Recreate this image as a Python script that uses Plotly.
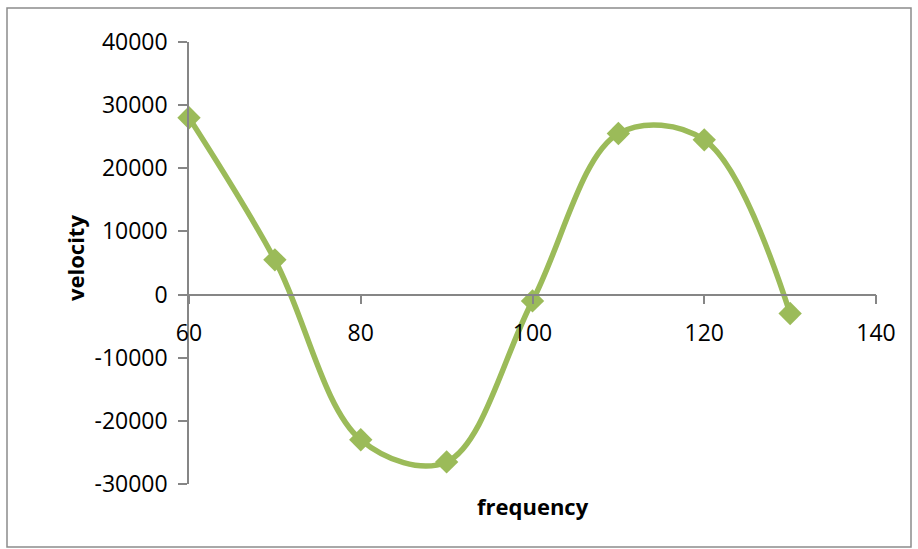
import plotly.graph_objects as go

frequency = [60, 70, 80, 90, 100, 110, 120, 130]
velocity = [28000, 5500, -23000, -26500, -1000, 25500, 24500, -3000]

x_ticks = [60, 80, 100, 120, 140]
x_labels = ["60", "80", "100", "120", "140"]
y_ticks = [-30000, -20000, -10000, 0, 10000, 20000, 30000, 40000]
y_labels = ["-30000", "-20000", "-10000", "0", "10000", "20000", "30000", "40000"]

GREEN = "#9BBB59"
AXIS = "#868686"
FONT = "Open Sans"

fig = go.Figure()
fig.add_trace(go.Scatter(
    x=frequency, y=velocity, mode="lines+markers",
    line=dict(color=GREEN, width=5.5, shape="spline", smoothing=1.0),
    marker=dict(symbol="diamond", size=18, color=GREEN),
    showlegend=False, cliponaxis=False,
))

fig.update_layout(
    width=918, height=549,
    margin=dict(l=189, r=42, t=42, b=65),
    paper_bgcolor="white", plot_bgcolor="white",
    font=dict(family=FONT, size=23, color="black"),
    xaxis=dict(
        range=[60, 140], tickvals=x_ticks, ticktext=x_labels,
        showgrid=False, zeroline=False,
        showline=True, linecolor=AXIS, linewidth=1.5,
        ticks="outside", ticklen=9, tickcolor=AXIS, tickwidth=1.5,
        anchor="free", position=3/7, ticklabelstandoff=9,
    ),
    yaxis=dict(
        range=[-30000, 40000], tickvals=y_ticks, ticktext=y_labels,
        showgrid=False, zeroline=False,
        showline=True, linecolor=AXIS, linewidth=1.5,
        ticks="outside", ticklen=9, tickcolor=AXIS, tickwidth=1.5,
        ticklabelstandoff=6,
    ),
    shapes=[dict(type="rect", xref="paper", yref="paper",
                 x0=(7 - 189) / 687, x1=(911 - 189) / 687,
                 y0=(484 - 547) / 442, y1=(484 - 8) / 442,
                 line=dict(color="#8c8c8c", width=1.5), layer="below")],
    annotations=[
        dict(text="<b>frequency</b>", xref="paper", yref="paper",
             x=0.5, y=(484 - 506) / 442, showarrow=False,
             font=dict(family=FONT, size=22), xanchor="center", yanchor="middle"),
        dict(text="<b>velocity</b>", xref="paper", yref="paper",
             x=(75 - 189) / 687, y=(484 - 258) / 442, showarrow=False, textangle=-90,
             font=dict(family=FONT, size=22), xanchor="center", yanchor="middle"),
    ],
)

fig.write_html("out.html")
